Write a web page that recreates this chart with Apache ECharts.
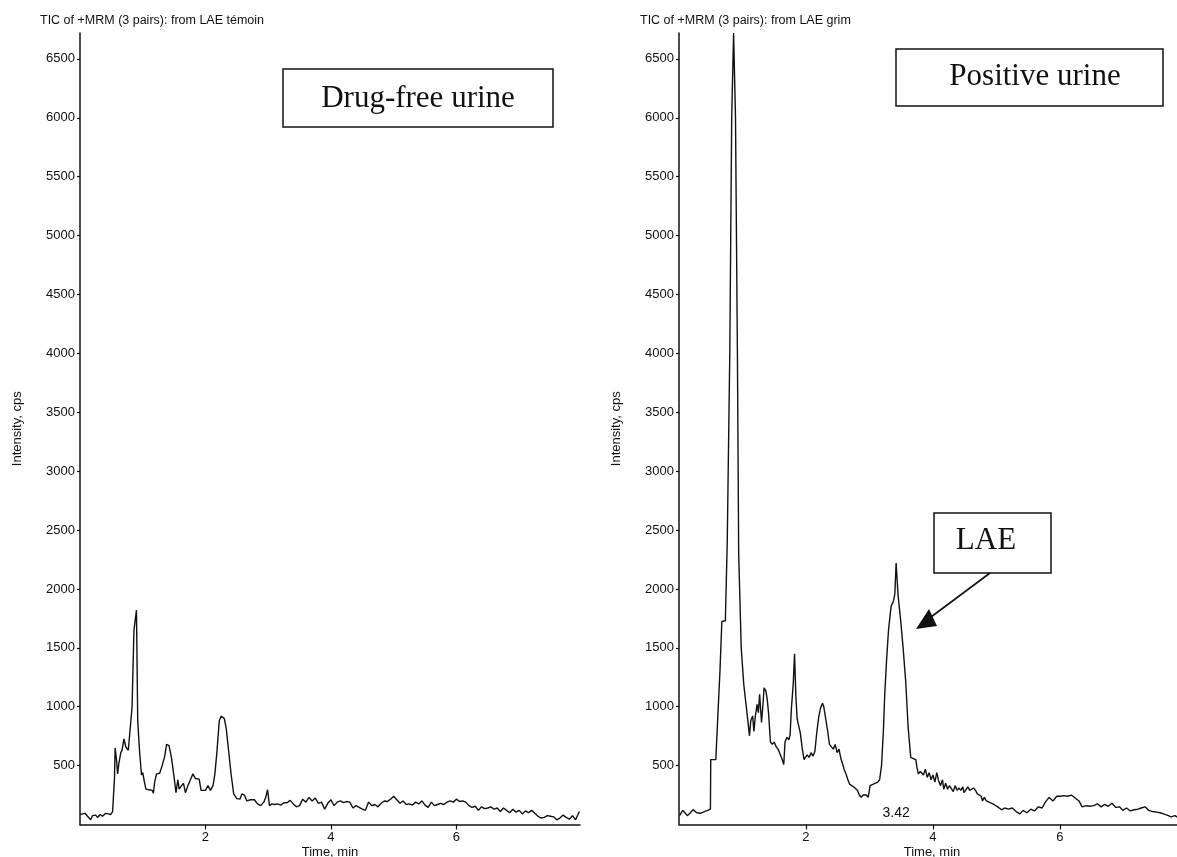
<!DOCTYPE html>
<html>
<head>
<meta charset="utf-8">
<script src="https://cdn.jsdelivr.net/npm/echarts@6/dist/echarts.min.js"></script>
<style>
  html, body { margin: 0; padding: 0; background: #ffffff; }
  #chart { width: 1177px; height: 857px; }
</style>
</head>
<body>
<div id="chart"></div>
<script>
// TIC traces (+MRM, 3 pairs): retention time in minutes, intensity in cps.
const blankTime = [
  0.00, 0.04, 0.08, 0.12, 0.17, 0.20, 0.25, 0.28, 0.32, 0.36, 0.41, 0.45, 0.49, 0.52, 0.55,
  0.56, 0.58, 0.60, 0.62, 0.65, 0.67, 0.70, 0.73, 0.77, 0.80, 0.83, 0.86, 0.90, 0.92, 0.95,
  0.98, 1.00, 1.02, 1.05, 1.10, 1.15, 1.17, 1.19, 1.22, 1.27, 1.31, 1.35, 1.38, 1.42, 1.46,
  1.50, 1.53, 1.56, 1.58, 1.62, 1.65, 1.68, 1.72, 1.76, 1.80, 1.84, 1.90, 1.93, 1.96, 2.00,
  2.04, 2.08, 2.12, 2.15, 2.18, 2.22, 2.25, 2.30, 2.33, 2.37, 2.41, 2.45, 2.50, 2.55, 2.58,
  2.62, 2.66, 2.72, 2.78, 2.83, 2.88, 2.93, 2.96, 2.99, 3.02, 3.06, 3.10, 3.15, 3.20, 3.25,
  3.30, 3.35, 3.40, 3.45, 3.50, 3.55, 3.60, 3.65, 3.70, 3.75, 3.80, 3.85, 3.90, 3.95, 4.00,
  4.05, 4.10, 4.15, 4.20, 4.25, 4.30, 4.35, 4.40, 4.45, 4.50, 4.55, 4.60, 4.65, 4.70, 4.75,
  4.80, 4.85, 4.90, 4.95, 5.00, 5.05, 5.10, 5.15, 5.20, 5.25, 5.30, 5.35, 5.40, 5.45, 5.50,
  5.55, 5.60, 5.65, 5.70, 5.75, 5.80, 5.85, 5.90, 5.95, 6.00, 6.05, 6.10, 6.15, 6.20, 6.25,
  6.30, 6.35, 6.40, 6.45, 6.50, 6.55, 6.60, 6.65, 6.70, 6.75, 6.80, 6.85, 6.90, 6.95, 7.00,
  7.05, 7.10, 7.15, 7.20, 7.25, 7.30, 7.35, 7.40, 7.45, 7.50, 7.55, 7.60, 7.65, 7.70, 7.75,
  7.80, 7.85, 7.90, 7.96
];
const blankIntensity = [
  84, 90, 95, 70, 40, 75, 80, 60, 85, 70, 95, 90, 85, 110, 400,
  650, 560, 430, 520, 610, 630, 726, 660, 630, 620, 1000, 1650, 1820, 880, 620,
  420, 440, 380, 300, 295, 290, 265, 360, 430, 435, 500, 580, 680, 670, 560,
  400, 270, 380, 300, 330, 350, 270, 330, 380, 430, 390, 385, 290, 300, 290,
  330, 290, 330, 430, 600, 880, 920, 900, 820, 620, 420, 260, 220, 215, 260,
  250, 200, 210, 210, 175, 160, 190, 230, 295, 160, 175, 170, 175, 165, 185,
  185, 205, 175, 150, 160, 215, 190, 230, 200, 225, 180, 190, 130, 180, 210,
  160, 190, 200, 185, 195, 190, 140, 160, 145, 130, 120, 190, 160, 170, 150,
  180, 200, 195, 215, 240, 210, 180, 200, 170, 175, 165, 190, 175, 200, 165,
  145, 190, 160, 170, 180, 170, 190, 200, 190, 215, 195, 200, 190, 160, 145,
  155, 120, 150, 135, 140, 150, 130, 140, 110, 140, 120, 100, 130, 105, 120,
  90, 115, 100, 120, 95, 70, 55, 60, 75, 70, 65, 40, 55, 80, 60,
  45, 75, 40, 110
];

const positiveTime = [
  0.01, 0.06, 0.10, 0.13, 0.18, 0.22, 0.25, 0.28, 0.31, 0.34, 0.37, 0.40, 0.43, 0.45, 0.48,
  0.495, 0.50, 0.58, 0.61, 0.645, 0.675, 0.73, 0.76, 0.80, 0.83, 0.86, 0.89, 0.92, 0.94, 0.98,
  1.02, 1.06, 1.11, 1.13, 1.16, 1.18, 1.20, 1.23, 1.25, 1.27, 1.30, 1.32, 1.34, 1.37, 1.39,
  1.41, 1.44, 1.47, 1.50, 1.53, 1.56, 1.59, 1.62, 1.65, 1.67, 1.70, 1.73, 1.75, 1.77, 1.80,
  1.82, 1.84, 1.86, 1.88, 1.91, 1.94, 1.97, 1.99, 2.02, 2.05, 2.08, 2.11, 2.14, 2.17, 2.20,
  2.23, 2.26, 2.28, 2.31, 2.34, 2.37, 2.40, 2.43, 2.46, 2.49, 2.52, 2.55, 2.58, 2.60, 2.63,
  2.66, 2.69, 2.75, 2.81, 2.84, 2.87, 2.90, 2.92, 2.95, 2.98, 3.01, 3.04, 3.07, 3.10, 3.13,
  3.16, 3.19, 3.22, 3.24, 3.27, 3.30, 3.34, 3.38, 3.40, 3.42, 3.45, 3.49, 3.53, 3.57, 3.61,
  3.65, 3.69, 3.73, 3.75, 3.77, 3.80, 3.83, 3.85, 3.88, 3.91, 3.94, 3.97, 4.00, 4.03, 4.06,
  4.09, 4.12, 4.15, 4.17, 4.20, 4.23, 4.26, 4.29, 4.32, 4.35, 4.38, 4.41, 4.44, 4.47, 4.49,
  4.55, 4.58, 4.61, 4.64, 4.67, 4.70, 4.73, 4.76, 4.78, 4.81, 4.84, 4.90, 4.96, 5.02, 5.08,
  5.13, 5.19, 5.25, 5.31, 5.37, 5.42, 5.48, 5.54, 5.60, 5.66, 5.72, 5.77, 5.83, 5.89, 5.95,
  6.01, 6.06, 6.12, 6.18, 6.24, 6.30, 6.35, 6.41, 6.47, 6.53, 6.59, 6.65, 6.70, 6.76, 6.82,
  6.88, 6.94, 6.99, 7.05, 7.11, 7.17, 7.23, 7.28, 7.34, 7.40, 7.46, 7.52, 7.58, 7.63, 7.69,
  7.75, 7.81, 7.86, 7.92
];
const positiveIntensity = [
  78, 120, 95, 75, 100, 126, 110, 100, 85, 95, 90, 110, 100, 120, 115,
  130, 551, 551, 900, 1300, 1724, 1730, 2400, 4000, 6000, 6720, 6000, 4000, 2300, 1500,
  1190, 1000, 753, 880, 922, 790, 910, 1020, 950, 1105, 866, 1000, 1161, 1130, 1060,
  950, 700, 680, 700, 660, 640, 600, 560, 510, 700, 740, 720, 760, 980, 1200,
  1450, 1100, 900, 850, 780, 650, 550, 570, 590, 570, 610, 580, 620, 780, 910,
  990, 1030, 1000, 900, 800, 680, 670, 640, 680, 610, 640, 560, 510, 470, 430,
  380, 340, 320, 290, 250, 230, 250, 240, 250, 230, 330, 340, 345, 350, 360,
  380, 500, 800, 1100, 1400, 1650, 1850, 1900, 1960, 2220, 1950, 1740, 1500, 1220, 820,
  570, 560, 550, 480, 430, 450, 460, 420, 470, 400, 440, 380, 420, 360, 440,
  370, 330, 380, 300, 350, 300, 330, 320, 280, 330, 290, 310, 290, 320, 270,
  320, 290, 300, 310, 290, 260, 270, 240, 200, 230, 200, 185, 170, 150, 125,
  140, 130, 140, 110, 90, 120, 100, 130, 115, 150, 140, 190, 230, 200, 240,
  240, 245, 240, 250, 225, 200, 150, 160, 155, 160, 175, 150, 170, 155, 180,
  145, 150, 120, 140, 115, 125, 130, 140, 150, 120, 110, 105, 100, 90, 80,
  65, 75, 60, 80
];

// LAE retention time (min) marked under its peak
const laeRetentionTime = 3.42;

// Axis ticks
const yTickValues = [500, 1000, 1500, 2000, 2500, 3000, 3500, 4000, 4500, 5000, 5500, 6000, 6500];
const xTickValues = [2, 4, 6];
const yMax = 6720;
const xMax = 7.97;

const zip = (xs, ys) => xs.map((x, i) => [x, ys[i]]);

const sansFont = 'Liberation Sans, Arial, Helvetica, sans-serif';
const serifFont = 'Liberation Serif, Times New Roman, serif';
const ink = '#111111';

function xAxisFor(gridIndex) {
  return {
    type: 'value', gridIndex, min: 0, max: xMax,
    name: 'Time, min', nameLocation: 'middle', nameGap: 21, nameMoveOverlap: false,
    nameTextStyle: { fontFamily: sansFont, fontSize: 13, color: ink },
    axisLine: { lineStyle: { color: ink, width: 1.5 } },
    axisTick: { show: true, length: 5, customValues: xTickValues, lineStyle: { color: ink, width: 1.2 } },
    axisLabel: { customValues: xTickValues, margin: 6, fontFamily: sansFont, fontSize: 13, color: ink,
                 formatter: v => String(v) },
    splitLine: { show: false }
  };
}

function yAxisFor(gridIndex) {
  return {
    type: 'value', gridIndex, min: 0, max: yMax,
    name: 'Intensity, cps', nameLocation: 'middle', nameGap: 56,
    nameTextStyle: { fontFamily: sansFont, fontSize: 13, color: ink },
    axisLine: { show: true, lineStyle: { color: ink, width: 1.5 } },
    axisTick: { show: true, length: 3, customValues: yTickValues, lineStyle: { color: ink, width: 1.2 } },
    axisLabel: { customValues: yTickValues, margin: 5, fontFamily: sansFont, fontSize: 13, color: ink,
                 formatter: v => String(v) },
    splitLine: { show: false }
  };
}

function traceSeries(idx, data, extra) {
  return Object.assign({
    type: 'line', xAxisIndex: idx, yAxisIndex: idx, data,
    showSymbol: false, symbol: 'none', smooth: false, animation: false,
    lineStyle: { color: ink, width: 1.4 }, clip: true
  }, extra || {});
}

const chart = echarts.init(document.getElementById('chart'), null, { renderer: 'canvas' });

chart.setOption({
  backgroundColor: '#ffffff',
  animation: false,
  title: [
    { text: 'TIC of +MRM (3 pairs): from LAE témoin', left: 40, top: 14, padding: 0,
      textStyle: { fontFamily: sansFont, fontSize: 12.5, fontWeight: 'normal', color: ink } },
    { text: 'TIC of +MRM (3 pairs): from LAE grim', left: 640, top: 14, padding: 0,
      textStyle: { fontFamily: sansFont, fontSize: 12.5, fontWeight: 'normal', color: ink } }
  ],
  grid: [
    { left: 80, top: 33, width: 500, bottom: 32.5, containLabel: false, outerBoundsMode: 'none' },
    { left: 679, top: 33, width: 506, bottom: 32.5, containLabel: false, outerBoundsMode: 'none' }
  ],
  xAxis: [xAxisFor(0), xAxisFor(1)],
  yAxis: [yAxisFor(0), yAxisFor(1)],
  series: [
    traceSeries(0, zip(blankTime, blankIntensity)),
    traceSeries(1, zip(positiveTime, positiveIntensity), {
      markPoint: {
        symbol: 'rect', symbolSize: 1, animation: false,
        itemStyle: { color: 'rgba(0,0,0,0)' },
        label: { show: true, position: 'inside', formatter: String(laeRetentionTime),
                 fontFamily: sansFont, fontSize: 14, color: ink },
        data: [{ coord: [laeRetentionTime, 95] }]
      }
    })
  ],
  graphic: [
    // sample annotation boxes
    { type: 'rect', shape: { x: 283, y: 69, width: 270, height: 58 },
      style: { fill: '#ffffff', stroke: ink, lineWidth: 1.5 } },
    { type: 'text', x: 418, y: 99,
      style: { text: 'Drug-free urine', font: '31px ' + serifFont, fill: ink, align: 'center', verticalAlign: 'middle' } },
    { type: 'rect', shape: { x: 896, y: 49, width: 267, height: 57 },
      style: { fill: '#ffffff', stroke: ink, lineWidth: 1.5 } },
    { type: 'text', x: 1035, y: 77,
      style: { text: 'Positive urine', font: '31px ' + serifFont, fill: ink, align: 'center', verticalAlign: 'middle' } },
    // LAE callout with arrow
    { type: 'rect', shape: { x: 934, y: 513, width: 117, height: 60 },
      style: { fill: '#ffffff', stroke: ink, lineWidth: 1.5 } },
    { type: 'text', x: 986, y: 541,
      style: { text: 'LAE', font: '31px ' + serifFont, fill: ink, align: 'center', verticalAlign: 'middle' } },
    { type: 'line', shape: { x1: 990, y1: 573, x2: 931, y2: 617 },
      style: { stroke: ink, lineWidth: 1.6 } },
    { type: 'polygon', shape: { points: [[916, 629], [929, 609], [937, 626]] },
      style: { fill: ink } }
  ]
});
</script>
</body>
</html>
